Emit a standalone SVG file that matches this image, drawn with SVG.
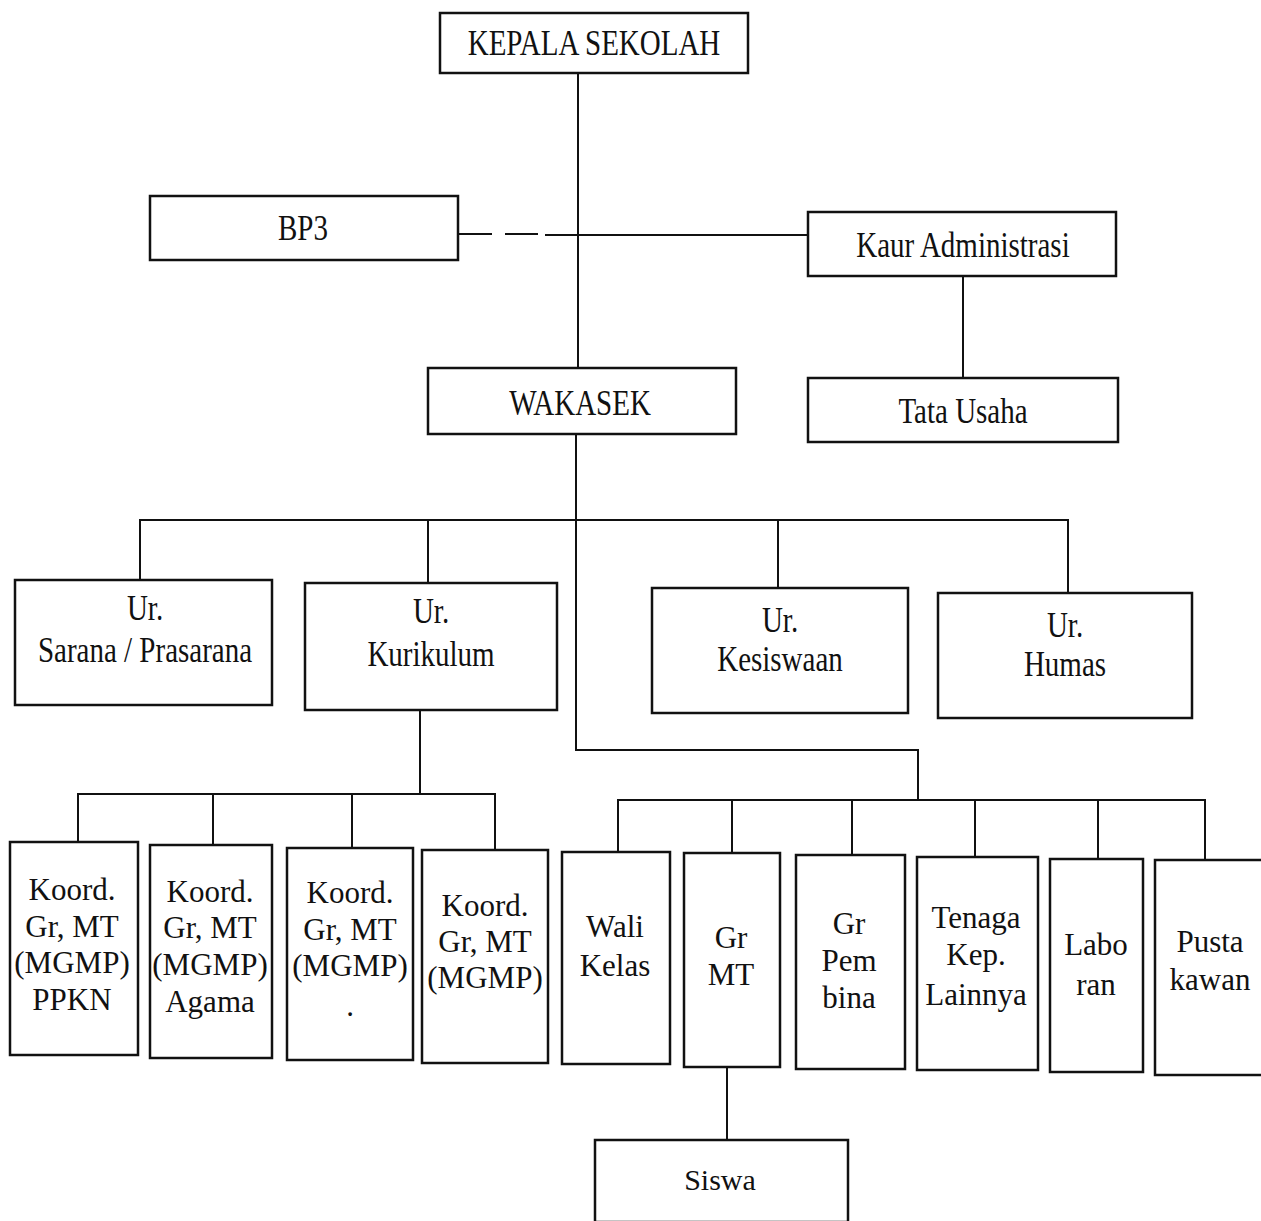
<svg xmlns="http://www.w3.org/2000/svg" width="1261" height="1221" viewBox="0 0 1261 1221">
<style>
.box{fill:#fff;stroke:#111;stroke-width:2.5}
.ln{fill:none;stroke:#111;stroke-width:2}
text{font-family:"Liberation Serif","Times New Roman",serif;font-size:30px;fill:#111;text-anchor:middle}
.b{font-size:31px}
.t{font-size:29px}
</style>
<rect width="1261" height="1221" fill="#fff"/>
<g id="connectors">
<path class="ln" d="M578 72V368"/>
<path class="ln" d="M458 234H492M505 234H538" stroke-width="2.5"/>
<path class="ln" d="M545 235H808" stroke-width="2.5"/>
<path class="ln" d="M963 276V378"/>
<path class="ln" d="M576 434V750H918V800"/>
<path class="ln" d="M140 580V520H1068V595M428 520V583M778 520V588" stroke-width="2.5"/>
<path class="ln" d="M420 710V794"/>
<path class="ln" d="M78 842V794H495V850M213 794V845M352 794V848"/>
<path class="ln" d="M618 852V800H1205V860M732 800V853M852 800V855M975 800V857M1098 800V859"/>
<path class="ln" d="M727 1067V1140"/>
</g>
<g id="kepala"><rect class="box" x="440" y="13" width="308" height="60"/><text class="t" transform="translate(594 55) scale(1 1.25)">KEPALA SEKOLAH</text></g>
<g id="bp3"><rect class="box" x="150" y="196" width="308" height="64"/><text class="t" transform="translate(303 240) scale(1 1.25)">BP3</text></g>
<g id="kaur"><rect class="box" x="808" y="212" width="308" height="64"/><text class="t" transform="translate(963 257) scale(1 1.25)">Kaur Administrasi</text></g>
<g id="wakasek"><rect class="box" x="428" y="368" width="308" height="66"/><text class="t" transform="translate(580 415) scale(1 1.25)">WAKASEK</text></g>
<g id="tatausaha"><rect class="box" x="808" y="378" width="310" height="64"/><text class="t" transform="translate(963 423) scale(1 1.25)">Tata Usaha</text></g>
<g id="sarana"><rect class="box" x="15" y="580" width="257" height="125"/><text class="t" transform="translate(145 620) scale(1 1.25)">Ur.</text><text class="t" transform="translate(145 662) scale(1 1.25)">Sarana / Prasarana</text></g>
<g id="kurikulum"><rect class="box" x="305" y="583" width="252" height="127"/><text class="t" transform="translate(431 623) scale(1 1.25)">Ur.</text><text class="t" transform="translate(431 666) scale(1 1.25)">Kurikulum</text></g>
<g id="kesiswaan"><rect class="box" x="652" y="588" width="256" height="125"/><text class="t" transform="translate(780 632) scale(1 1.25)">Ur.</text><text class="t" transform="translate(780 671) scale(1 1.25)">Kesiswaan</text></g>
<g id="humas"><rect class="box" x="938" y="593" width="254" height="125"/><text class="t" transform="translate(1065 637) scale(1 1.25)">Ur.</text><text class="t" transform="translate(1065 676) scale(1 1.25)">Humas</text></g>
<g id="koord1"><rect class="box" x="10" y="842" width="128" height="213"/><text class="b" x="72" y="900">Koord.</text><text class="b" x="72" y="937">Gr, MT</text><text class="b" x="72" y="973">(MGMP)</text><text class="b" x="72" y="1010">PPKN</text></g>
<g id="koord2"><rect class="box" x="150" y="845" width="122" height="213"/><text class="b" x="210" y="902">Koord.</text><text class="b" x="210" y="938">Gr, MT</text><text class="b" x="210" y="975">(MGMP)</text><text class="b" x="210" y="1012">Agama</text></g>
<g id="koord3"><rect class="box" x="287" y="848" width="126" height="212"/><text class="b" x="350" y="903">Koord.</text><text class="b" x="350" y="940">Gr, MT</text><text class="b" x="350" y="976">(MGMP)</text><text class="b" x="350" y="1016">.</text></g>
<g id="koord4"><rect class="box" x="422" y="850" width="126" height="213"/><text class="b" x="485" y="916">Koord.</text><text class="b" x="485" y="952">Gr, MT</text><text class="b" x="485" y="988">(MGMP)</text></g>
<g id="wali"><rect class="box" x="562" y="852" width="108" height="212"/><text class="b" x="615" y="937">Wali</text><text class="b" x="615" y="976">Kelas</text></g>
<g id="grmt"><rect class="box" x="684" y="853" width="96" height="214"/><text class="b" x="731" y="948">Gr</text><text class="b" x="731" y="985">MT</text></g>
<g id="grpembina"><rect class="box" x="796" y="855" width="109" height="214"/><text class="b" x="849" y="934">Gr</text><text class="b" x="849" y="971">Pem</text><text class="b" x="849" y="1008">bina</text></g>
<g id="tenaga"><rect class="box" x="917" y="857" width="121" height="213"/><text class="b" x="976" y="928">Tenaga</text><text class="b" x="976" y="965">Kep.</text><text class="b" x="976" y="1005">Lainnya</text></g>
<g id="laboran"><rect class="box" x="1050" y="859" width="93" height="213"/><text class="b" x="1096" y="955">Labo</text><text class="b" x="1096" y="995">ran</text></g>
<g id="pustakawan"><rect class="box" x="1155" y="860" width="110" height="215"/><text class="b" x="1210" y="952">Pusta</text><text class="b" x="1210" y="990">kawan</text></g>
<g id="siswa"><rect class="box" x="595" y="1140" width="253" height="82"/><text x="720" y="1190">Siswa</text></g>
</svg>
